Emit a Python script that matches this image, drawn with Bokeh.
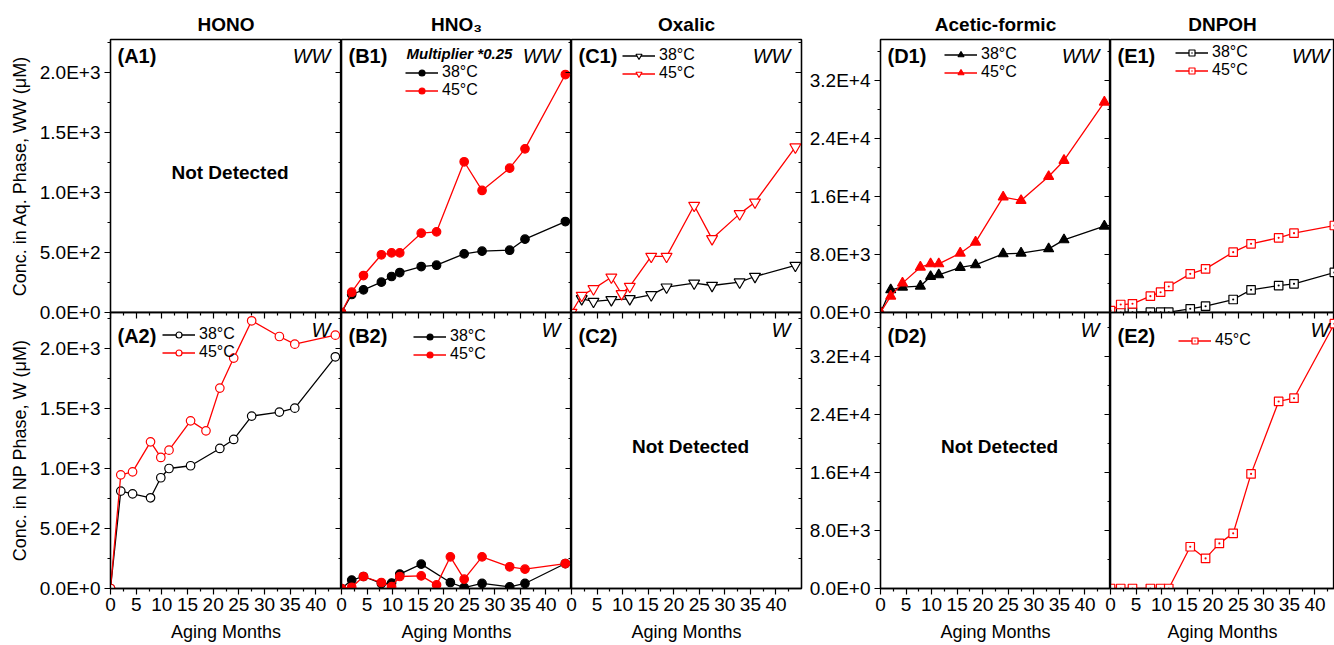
from bokeh.plotting import figure
from bokeh.layouts import row, column
from bokeh.models import Range1d, FixedTicker, LinearAxis, Label, Legend, LegendItem, Grid
from bokeh.embed import file_html
from bokeh.resources import INLINE

FONT = "Liberation Sans"
BLACK = "#000000"
RED = "#ff0000"

# ---------------- data ----------------
PANEL_TITLES = ["HONO", "HNO\u2083", "Oxalic", "Acetic-formic", "DNPOH"]
TEMP_LABELS = ["38\u00b0C", "45\u00b0C"]
X_TICKS = [0, 5, 10, 15, 20, 25, 30, 35, 40]
X_TICK_LABELS = ["0", "5", "10", "15", "20", "25", "30", "35", "40"]
X_MINOR = [2.5, 7.5, 12.5, 17.5, 22.5, 27.5, 32.5, 37.5, 42.5]
Y_TICKS_SMALL = [0, 500, 1000, 1500, 2000]
Y_LABELS_SMALL = ["0.0E+0", "5.0E+2", "1.0E+3", "1.5E+3", "2.0E+3"]
Y_MINOR_SMALL = [250, 750, 1250, 1750, 2250]
Y_TICKS_LARGE = [0, 8000, 16000, 24000, 32000]
Y_LABELS_LARGE = ["0.0E+0", "8.0E+3", "1.6E+4", "2.4E+4", "3.2E+4"]
Y_MINOR_LARGE = [4000, 12000, 20000, 28000, 36000]

# A2  HONO, NP phase (W)
hono_w_38_x = [0, 2, 4.3, 7.8, 9.8, 11.4, 15.6, 21.3, 24, 27.5, 32.9, 35.9, 43.8]
hono_w_38_y = [0, 812, 789, 756, 923, 1000, 1023, 1167, 1242, 1437, 1470, 1503, 1931]
hono_w_45_x = [0, 2, 4.3, 7.8, 9.8, 11.4, 15.6, 18.6, 21.3, 24, 27.5, 32.9, 35.9, 43.8]
hono_w_45_y = [0, 947, 972, 1222, 1092, 1153, 1397, 1314, 1670, 1920, 2231, 2100, 2036, 2111]

# B1  HNO3, aqueous phase (WW), multiplier 0.25
hno3_ww_x = [0, 2, 4.3, 7.8, 9.8, 11.4, 15.6, 18.6, 24, 27.5, 32.9, 35.9, 43.8]
hno3_ww_38_y = [0, 150, 189, 253, 300, 333, 383, 394, 489, 511, 519, 611, 758]
hno3_ww_45_y = [0, 169, 308, 481, 497, 497, 661, 672, 1256, 1017, 1203, 1364, 1983]

# B2  HNO3, NP phase (W)
hno3_w_38_x = [0, 2, 4.3, 7.8, 9.8, 11.4, 15.6, 21.3, 24, 27.5, 32.9, 35.9, 43.8]
hno3_w_38_y = [0, 70, 100, 42, 45, 120, 203, 50, 8, 42, 14, 42, 208]
hno3_w_45_x = [0, 2, 4.3, 7.8, 9.8, 11.4, 15.6, 18.6, 21.3, 24, 27.5, 32.9, 35.9, 43.8]
hno3_w_45_y = [0, 10, 100, 50, 15, 100, 105, 30, 264, 78, 264, 181, 161, 208]

# C1  Oxalic, aqueous phase (WW)
oxalic_ww_38_x = [2, 4.3, 7.8, 11.4, 15.6, 18.6, 24, 27.5, 32.9, 35.9, 43.8]
oxalic_ww_38_y = [114, 92, 106, 114, 147, 211, 244, 225, 253, 300, 392]
oxalic_ww_45_x = [0, 2, 4.3, 7.8, 9.8, 11.4, 15.6, 18.6, 24, 27.5, 32.9, 35.9, 43.8]
oxalic_ww_45_y = [0, 142, 197, 294, 156, 217, 467, 467, 892, 614, 822, 919, 1378]

# D1  Acetic-formic, aqueous phase (WW)
acetic_ww_x = [0, 2, 4.3, 7.8, 9.8, 11.4, 15.6, 18.6, 24, 27.5, 32.9, 35.9, 43.8]
acetic_ww_38_y = [0, 3130, 3490, 3630, 4970, 5190, 6210, 6570, 8090, 8180, 8780, 10020, 11910]
acetic_ww_45_y = [0, 2250, 4050, 6250, 6710, 6710, 8180, 9700, 15910, 15450, 18760, 20970, 29010]

# E1  DNPOH, aqueous phase (WW)
dnpoh_ww_38_x = [2, 4.3, 7.8, 9.8, 11.4, 15.6, 18.6, 24, 27.5, 32.9, 35.9, 43.8]
dnpoh_ww_38_y = [0, 40, 40, 40, 40, 510, 870, 1790, 3130, 3720, 3950, 5520]
dnpoh_ww_45_x = [0, 2, 4.3, 7.8, 9.8, 11.4, 15.6, 18.6, 24, 27.5, 32.9, 35.9, 43.8]
dnpoh_ww_45_y = [250, 1100, 1200, 2250, 2800, 3590, 5330, 6020, 8320, 9470, 10300, 10940, 12000]

# E2  DNPOH, NP phase (W)
dnpoh_w_45_x = [0, 2, 4.3, 7.8, 9.8, 11.4, 15.6, 18.6, 21.3, 24, 27.5, 32.9, 35.9, 43.8]
dnpoh_w_45_y = [0, 0, 0, 0, 0, 0, 5750, 4140, 6210, 7590, 15780, 25750, 26200, 36460]

# ---------------- layout constants ----------------
TOP_H, BOT_H = 273, 276
TOP_BORDER, EXT, BOTTOM_BORDER = 39, 12, 57
BOT_TOP = 4          # room for the inward-tick axis above the bottom row
OVER = 10            # overlap between neighbouring panels
C_RIGHT = 4          # room for the inward-tick axis at the right of column C
ROW_H = 17


def make_panel(top, frame_w, x_end, y_end, left_border, right_border=0, title=None):
    p = figure(frame_width=frame_w, frame_height=TOP_H if top else BOT_H,
               x_range=Range1d(0, x_end), y_range=Range1d(0, y_end),
               x_axis_location=None, y_axis_location=None,
               toolbar_location=None, output_backend="svg",
               min_border_left=left_border, min_border_right=right_border,
               min_border_top=TOP_BORDER if top else BOT_TOP,
               min_border_bottom=EXT if top else BOTTOM_BORDER,
               border_fill_color=None, background_fill_color="white",
               outline_line_color="black", outline_line_width=1.3,
               title=title)
    for g in p.select(type=Grid):
        g.visible = False
    if title is not None:
        p.title.align = "center"
        p.title.text_font = FONT
        p.title.text_font_size = "19px"
        p.title.text_font_style = "bold"
        p.title.text_color = "black"
        p.title.standoff = 9
    return p


def tick_axis(p, ticks, minor, side, inward):
    """Axis with ticks only (no tick labels)."""
    t_in, t_out = (6, 0) if inward else (0, 6)
    m_in, m_out = (3, 0) if inward else (0, 3)
    ax = LinearAxis(ticker=FixedTicker(ticks=ticks, minor_ticks=minor),
                    major_tick_in=t_in, major_tick_out=t_out,
                    minor_tick_in=m_in, minor_tick_out=m_out,
                    major_label_overrides={t: "" for t in ticks},
                    major_label_text_font_size="1px", major_label_standoff=2,
                    axis_line_color="black", axis_line_width=1.3,
                    major_tick_line_color="black", minor_tick_line_color="black",
                    major_tick_line_width=1.2, minor_tick_line_width=1.2)
    p.add_layout(ax, side)


def left_axis(p, ticks, minor, labels, title=None):
    ax = LinearAxis(ticker=FixedTicker(ticks=ticks, minor_ticks=minor),
                    major_label_overrides={t: s for t, s in zip(ticks, labels)},
                    major_tick_out=6, major_tick_in=0, minor_tick_out=3, minor_tick_in=0,
                    major_label_standoff=4, major_label_text_font=FONT,
                    major_label_text_font_size="19px", major_label_text_color="black",
                    axis_label=title, axis_label_text_font=FONT,
                    axis_label_text_font_size="18px", axis_label_text_font_style="normal",
                    axis_label_text_color="black", axis_label_standoff=7,
                    axis_line_color="black", axis_line_width=1.3,
                    major_tick_line_color="black", minor_tick_line_color="black",
                    major_tick_line_width=1.2, minor_tick_line_width=1.2)
    p.add_layout(ax, "left")


def bottom_axis(p):
    ax = LinearAxis(ticker=FixedTicker(ticks=X_TICKS, minor_ticks=X_MINOR),
                    major_label_overrides={t: s for t, s in zip(X_TICKS, X_TICK_LABELS)},
                    major_tick_out=6, major_tick_in=0, minor_tick_out=3, minor_tick_in=0,
                    major_label_standoff=3, major_label_text_font=FONT,
                    major_label_text_font_size="19px", major_label_text_color="black",
                    axis_label="Aging Months", axis_label_text_font=FONT,
                    axis_label_text_font_size="18px", axis_label_text_font_style="normal",
                    axis_label_text_color="black", axis_label_standoff=8,
                    axis_line_color="black", axis_line_width=1.3,
                    major_tick_line_color="black", minor_tick_line_color="black",
                    major_tick_line_width=1.2, minor_tick_line_width=1.2)
    p.add_layout(ax, "below")


def label(p, text, x, y, size, style="normal", align="left"):
    p.add_layout(Label(x=x, y=y, x_units="screen", y_units="screen", text=text,
                       text_font=FONT, text_font_size=size, text_font_style=style,
                       text_align=align, text_baseline="middle", text_color="black"))


def series(p, x, y, color, marker, fill, size):
    l = p.line(x, y, line_color=color, line_width=1.3)
    s = p.scatter(x, y, marker=marker, size=size, line_color=color,
                  fill_color=fill, line_width=1.2)
    return [l, s]


def legend(p, entries, left, top_off, frame_h):
    items = [LegendItem(label=t, renderers=r) for t, r in entries]
    n = len(items)
    leg = Legend(items=items, location=(left, frame_h - top_off - n * ROW_H),
                 label_text_font=FONT, label_text_font_size="16px",
                 label_text_color="black", label_height=15, glyph_height=15,
                 glyph_width=33, label_standoff=4, spacing=-2, padding=0, margin=0,
                 border_line_color=None, background_fill_alpha=0)
    p.add_layout(leg)


def decorate(p, top, name, phase, frame_w, not_detected=False):
    fh = TOP_H if top else BOT_H
    off = 16 if top else 23
    label(p, name, 7, fh - off, "20px", "bold")
    label(p, phase, frame_w - 11, fh - (16 if top else 17), "20px", "italic", "right")
    if not_detected:
        label(p, "Not Detected", frame_w / 2 + 4, fh / 2 + 4, "19px", "bold", "center")


Y_END_TOP_S, Y_END_BOT_S = 2275, 2300
Y_END_TOP_L, Y_END_BOT_L = 37650, 38000
W_A, W_STD, W_E = 231, 230, 224
X_END = 45
X_END_E = 45 * W_E / W_STD
D_LEFT = 79 - C_RIGHT

# ---- top row ----
A1 = make_panel(True, W_A, X_END, Y_END_TOP_S, 110, title=PANEL_TITLES[0])
B1 = make_panel(True, W_STD, X_END, Y_END_TOP_S, OVER, title=PANEL_TITLES[1])
C1 = make_panel(True, W_STD, X_END, Y_END_TOP_S, OVER, C_RIGHT, title=PANEL_TITLES[2])
D1 = make_panel(True, W_STD, X_END, Y_END_TOP_L, D_LEFT, title=PANEL_TITLES[3])
E1 = make_panel(True, W_E, X_END_E, Y_END_TOP_L, OVER, title=PANEL_TITLES[4])

# ---- bottom row ----
A2 = make_panel(False, W_A, X_END, Y_END_BOT_S, 110)
B2 = make_panel(False, W_STD, X_END, Y_END_BOT_S, OVER)
C2 = make_panel(False, W_STD, X_END, Y_END_BOT_S, OVER, C_RIGHT)
D2 = make_panel(False, W_STD, X_END, Y_END_BOT_L, D_LEFT)
E2 = make_panel(False, W_E, X_END_E, Y_END_BOT_L, OVER)

# shared borders: ticks pointing left (outward from B, C, E = inward of A, B, D)
for p in (B1, C1, B2, C2):
    tick_axis(p, Y_TICKS_SMALL, Y_MINOR_SMALL, "left", inward=False)
for p in (E1, E2):
    tick_axis(p, Y_TICKS_LARGE, Y_MINOR_LARGE, "left", inward=False)
for p in (C1, C2):
    tick_axis(p, Y_TICKS_SMALL, Y_MINOR_SMALL, "right", inward=True)
for p in (A2, B2, C2, D2, E2):
    tick_axis(p, X_TICKS, X_MINOR, "above", inward=True)
    bottom_axis(p)

left_axis(A1, Y_TICKS_SMALL, Y_MINOR_SMALL, Y_LABELS_SMALL, "Conc. in Aq. Phase, WW (\u03bcM)")
left_axis(A2, Y_TICKS_SMALL, Y_MINOR_SMALL, Y_LABELS_SMALL, "Conc. in NP Phase, W (\u03bcM)")
left_axis(D1, Y_TICKS_LARGE, Y_MINOR_LARGE, Y_LABELS_LARGE)
left_axis(D2, Y_TICKS_LARGE, Y_MINOR_LARGE, Y_LABELS_LARGE)

# ---- series ----
r = series(A2, hono_w_38_x, hono_w_38_y, BLACK, "circle", "white", 8.5)
r2 = series(A2, hono_w_45_x, hono_w_45_y, RED, "circle", "white", 8.5)
legend(A2, [(TEMP_LABELS[0], r), (TEMP_LABELS[1], r2)], 52, 15, BOT_H)

r = series(B1, hno3_ww_x, hno3_ww_38_y, BLACK, "circle", BLACK, 8.5)
r2 = series(B1, hno3_ww_x, hno3_ww_45_y, RED, "circle", RED, 8.5)
legend(B1, [(TEMP_LABELS[0], r), (TEMP_LABELS[1], r2)], 64, 26, TOP_H)
label(B1, "Multiplier *0.25", 65, TOP_H - 14, "15px", "bold italic")

r = series(B2, hno3_w_38_x, hno3_w_38_y, BLACK, "circle", BLACK, 8.5)
r2 = series(B2, hno3_w_45_x, hno3_w_45_y, RED, "circle", RED, 8.5)
legend(B2, [(TEMP_LABELS[0], r), (TEMP_LABELS[1], r2)], 72, 17, BOT_H)

r = series(C1, oxalic_ww_38_x, oxalic_ww_38_y, BLACK, "inverted_triangle", "white", 11)
r2 = series(C1, oxalic_ww_45_x, oxalic_ww_45_y, RED, "inverted_triangle", "white", 11)
legend(C1, [(TEMP_LABELS[0], r), (TEMP_LABELS[1], r2)], 51, 9, TOP_H)

r = series(D1, acetic_ww_x, acetic_ww_38_y, BLACK, "triangle", BLACK, 10)
r2 = series(D1, acetic_ww_x, acetic_ww_45_y, RED, "triangle", RED, 10)
legend(D1, [(TEMP_LABELS[0], r), (TEMP_LABELS[1], r2)], 64, 8, TOP_H)

r = series(E1, dnpoh_ww_38_x, dnpoh_ww_38_y, BLACK, "square_dot", "white", 8.5)
r2 = series(E1, dnpoh_ww_45_x, dnpoh_ww_45_y, RED, "square_dot", "white", 8.5)
legend(E1, [(TEMP_LABELS[0], r), (TEMP_LABELS[1], r2)], 65, 6, TOP_H)

r2 = series(E2, dnpoh_w_45_x, dnpoh_w_45_y, RED, "square_dot", "white", 8.5)
legend(E2, [(TEMP_LABELS[1], r2)], 68, 20, BOT_H)

# ---- panel annotations ----
decorate(A1, True, "(A1)", "WW", W_A, not_detected=True)
decorate(B1, True, "(B1)", "WW", W_STD)
decorate(C1, True, "(C1)", "WW", W_STD)
decorate(D1, True, "(D1)", "WW", W_STD)
decorate(E1, True, "(E1)", "WW", W_E + 6)
decorate(A2, False, "(A2)", "W", W_A)
decorate(B2, False, "(B2)", "W", W_STD)
decorate(C2, False, "(C2)", "W", W_STD, not_detected=True)
decorate(D2, False, "(D2)", "W", W_STD, not_detected=True)
decorate(E2, False, "(E2)", "W", W_E + 6)

for p in (B1, C1, E1, B2, C2, E2):
    p.margin = (0, 0, 0, -OVER)

top_row = row(A1, B1, C1, D1, E1, spacing=0)
bot_row = row(A2, B2, C2, D2, E2, spacing=0)
bot_row.margin = (-(EXT + BOT_TOP), 0, 0, 0)
layout = column(top_row, bot_row, spacing=0)

open("out.html", "w").write(file_html(layout, INLINE))
